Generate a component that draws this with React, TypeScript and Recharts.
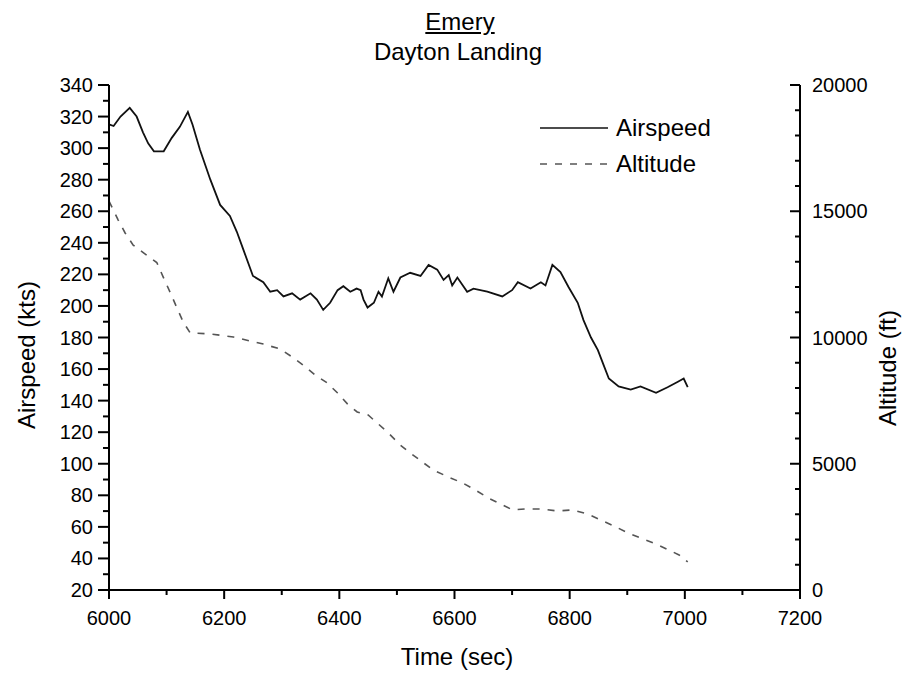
import React from "react";
import { LineChart, Line, XAxis, YAxis, Legend } from "recharts";

const FONT = "'Liberation Sans', Arial, sans-serif";

// tick positions (major + minor)
const timeTicks = [6000, 6100, 6200, 6300, 6400, 6500, 6600, 6700, 6800, 6900, 7000, 7100, 7200];
const speedTicks = [
  20, 30, 40, 50, 60, 70, 80, 90, 100, 110, 120, 130, 140, 150, 160, 170, 180, 190,
  200, 210, 220, 230, 240, 250, 260, 270, 280, 290, 300, 310, 320, 330, 340,
];
const altTicks = [
  0, 1000, 2000, 3000, 4000, 5000, 6000, 7000, 8000, 9000, 10000,
  11000, 12000, 13000, 14000, 15000, 16000, 17000, 18000, 19000, 20000,
];

// airspeed trace (sec, kts)
const airTime = [
  6000, 6008, 6020, 6036, 6048, 6059, 6068, 6078, 6095, 6109, 6123, 6137, 6145, 6158,
  6176, 6193, 6210, 6222, 6233, 6250, 6268, 6280, 6292, 6303, 6318, 6332, 6350, 6361,
  6372, 6384, 6397, 6407, 6419, 6430, 6437, 6442, 6449, 6460, 6468, 6474, 6485, 6494,
  6506, 6523, 6541, 6555, 6570, 6581, 6590, 6596, 6605, 6622, 6633, 6657, 6683, 6700,
  6710, 6732, 6750, 6758, 6770, 6784, 6798, 6814, 6824, 6837, 6849, 6859, 6868, 6885,
  6906, 6923, 6950, 6970, 6988, 6998, 7005,
];
const airSpeed = [
  315, 314, 320, 325.5, 320, 310, 303, 298, 298, 306.5, 313.5, 323, 315, 299,
  280, 264, 257, 247, 236, 219, 215, 209, 210, 206, 208, 204, 208, 204,
  197.5, 202, 210, 212.5, 209, 211, 210, 204, 199, 202, 209, 206, 217.5, 209,
  218, 221, 219, 226, 223, 216.5, 219.5, 213, 218, 209, 211, 209, 206, 210,
  215, 211, 215, 213, 226, 221.5, 212, 202, 191, 180, 172, 162.5, 154, 149,
  147, 149, 145, 148.5, 152, 154, 148.5,
];

// altitude trace (sec, ft)
const altTime = [
  6000, 6016, 6028, 6042, 6060, 6083, 6094, 6106, 6118, 6129, 6141, 6176, 6216, 6245,
  6268, 6297, 6318, 6337, 6358, 6379, 6397, 6414, 6431, 6450, 6466, 6485, 6506, 6523,
  6563, 6593, 6614, 6636, 6659, 6683, 6701, 6723, 6750, 6779, 6805, 6831, 6854, 6877,
  6901, 6923, 6950, 6972, 6990, 7005,
];
const altFeet = [
  15400, 14650, 14140, 13660, 13350, 12970, 12400, 11800, 11170, 10610, 10180, 10140, 10020, 9860,
  9740, 9545, 9230, 8910, 8515, 8200, 7800, 7370, 7050, 6930, 6610, 6220, 5740, 5430,
  4750, 4440, 4240, 3960, 3640, 3370, 3170, 3210, 3210, 3130, 3170, 3010, 2770, 2535,
  2260, 2060, 1820, 1585, 1390, 1110,
];

const airData = airTime.map((t, i) => ({ t, v: airSpeed[i] }));
const altData = altTime.map((t, i) => ({ t, a: altFeet[i] }));

function LeftTick(props: any) {
  const { x, y, payload } = props;
  const major = payload.value % 20 === 0;
  return (
    <g>
      <line x1={x} x2={x - (major ? 11 : 6)} y1={y} y2={y} stroke="#000" strokeWidth={2} />
      {major && (
        <text x={x - 16} y={y} textAnchor="end" dominantBaseline="central" fontSize={20} fontFamily={FONT} fill="#000">
          {payload.value}
        </text>
      )}
    </g>
  );
}

function RightTick(props: any) {
  const { x, y, payload } = props;
  const major = payload.value % 5000 === 0;
  return (
    <g>
      <line x1={x} x2={x - (major ? 10 : 5)} y1={y} y2={y} stroke="#000" strokeWidth={2} />
      {major && (
        <text x={x + 12} y={y} textAnchor="start" dominantBaseline="central" fontSize={20} fontFamily={FONT} fill="#000">
          {payload.value}
        </text>
      )}
    </g>
  );
}

function BottomTick(props: any) {
  const { x, y, payload } = props;
  const major = payload.value % 200 === 0;
  return (
    <g>
      <line x1={x} x2={x} y1={y} y2={y + (major ? 9 : 5)} stroke="#000" strokeWidth={2} />
      {major && (
        <text x={x} y={y + 35} textAnchor="middle" fontSize={20} fontFamily={FONT} fill="#000">
          {payload.value}
        </text>
      )}
    </g>
  );
}

function LegendBox() {
  const row = (label: string, dash?: string) => (
    <div style={{ display: "flex", alignItems: "center", height: 36 }}>
      <svg width={70} height={10} style={{ marginRight: 6 }}>
        <line x1={0} x2={68} y1={5} y2={5} stroke={dash ? "#555" : "#111"} strokeWidth={1.5} strokeDasharray={dash} />
      </svg>
      <span style={{ fontSize: 24, fontFamily: FONT, color: "#000", lineHeight: 1 }}>{label}</span>
    </div>
  );
  return (
    <div>
      {row("Airspeed")}
      {row("Altitude", "7 8")}
    </div>
  );
}

export default function App() {
  const text: React.CSSProperties = {
    position: "absolute",
    fontFamily: FONT,
    fontSize: 24,
    lineHeight: 1,
    whiteSpace: "nowrap",
    color: "#000",
  };
  return (
    <div style={{ position: "absolute", left: 0, top: 0, width: 907, height: 675, background: "#fff" }}>
      <LineChart width={907} height={675} margin={{ top: 85, right: 47, bottom: 45, left: 49 }}>
        <XAxis
          type="number"
          dataKey="t"
          domain={[6000, 7200]}
          ticks={timeTicks}
          interval={0}
          tickLine={false}
          tickSize={0}
          tickMargin={0}
          height={40}
          axisLine={{ stroke: "#000", strokeWidth: 2 }}
          tick={<BottomTick />}
        />
        <YAxis
          yAxisId="left"
          orientation="left"
          type="number"
          domain={[20, 340]}
          ticks={speedTicks}
          interval={0}
          width={60}
          tickLine={false}
          tickSize={0}
          tickMargin={0}
          axisLine={{ stroke: "#000", strokeWidth: 2 }}
          tick={<LeftTick />}
        />
        <YAxis
          yAxisId="right"
          orientation="right"
          type="number"
          domain={[0, 20000]}
          ticks={altTicks}
          interval={0}
          width={60}
          tickLine={false}
          tickSize={0}
          tickMargin={0}
          axisLine={{ stroke: "#000", strokeWidth: 2 }}
          tick={<RightTick />}
        />
        <Legend
          layout="vertical"
          verticalAlign="middle"
          align="center"
          content={<LegendBox />}
          wrapperStyle={{ position: "absolute", left: 540, top: 110, width: 200 }}
        />
        <Line
          yAxisId="left"
          data={airData}
          dataKey="v"
          name="Airspeed"
          type="linear"
          stroke="#111"
          strokeWidth={1.8}
          dot={false}
          isAnimationActive={false}
        />
        <Line
          yAxisId="right"
          data={altData}
          dataKey="a"
          name="Altitude"
          type="linear"
          stroke="#555"
          strokeWidth={1.6}
          strokeDasharray="7 8"
          dot={false}
          isAnimationActive={false}
        />
      </LineChart>
      <div style={{ ...text, left: 460, top: 10, transform: "translateX(-50%)", textDecoration: "underline" }}>Emery</div>
      <div style={{ ...text, left: 458, top: 40, transform: "translateX(-50%)" }}>Dayton Landing</div>
      <div style={{ ...text, left: 457, top: 645, transform: "translateX(-50%)" }}>Time (sec)</div>
      <div style={{ ...text, left: 27, top: 355, transform: "translate(-50%, -50%) rotate(-90deg)" }}>Airspeed (kts)</div>
      <div style={{ ...text, left: 888, top: 368, transform: "translate(-50%, -50%) rotate(-90deg)" }}>Altitude (ft)</div>
    </div>
  );
}
